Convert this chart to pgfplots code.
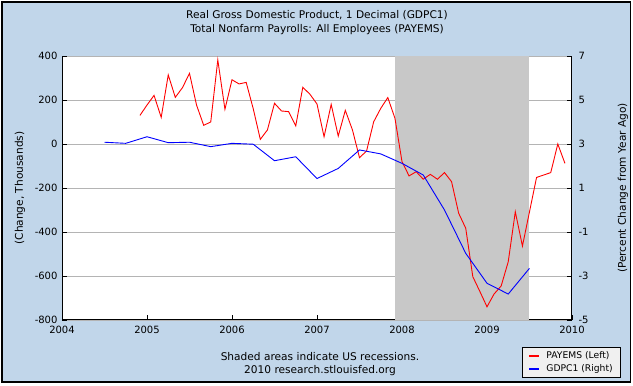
\documentclass[border=0pt]{standalone}
\usepackage{pgfplots}
\pgfplotsset{compat=1.18}
\usepackage{fontspec}
\setmainfont{DejaVu Sans}
\definecolor{bgblue}{HTML}{C1D6EA}
\definecolor{recgray}{HTML}{C8C8C8}
\definecolor{gridgray}{HTML}{B4B4B4}
\definecolor{legbg}{HTML}{F0F0F0}
\newcommand{\fs}{\fontsize{10.6}{12}\selectfont}
\newcommand{\ft}{\fontsize{10}{12}\selectfont}

\pgfplotstableread{
x y
2004.917 130
2005.000 177
2005.083 221
2005.167 121
2005.250 314
2005.333 212
2005.417 256
2005.500 321
2005.583 177
2005.667 85
2005.750 100
2005.833 382
2005.917 158
2006.000 292
2006.083 273
2006.167 280
2006.250 160
2006.333 21
2006.417 64
2006.500 185
2006.583 150
2006.667 147
2006.750 82
2006.833 258
2006.917 226
2007.000 182
2007.083 33
2007.167 180
2007.250 36
2007.333 153
2007.417 64
2007.500 -62
2007.583 -32
2007.667 101
2007.750 162
2007.833 211
2007.917 117
2008.000 -80
2008.083 -145
2008.167 -126
2008.250 -160
2008.333 -138
2008.417 -160
2008.500 -130
2008.583 -171
2008.667 -315
2008.750 -383
2008.833 -603
2008.917 -671
2009.000 -740
2009.083 -682
2009.167 -645
2009.250 -535
2009.333 -308
2009.417 -464
2009.500 -308
2009.583 -152
2009.667 -141
2009.750 -130
2009.833 0
2009.917 -88
}\payems

\pgfplotstableread{
x y
2004.50 3.08
2004.75 3.03
2005.00 3.33
2005.25 3.06
2005.50 3.08
2005.75 2.88
2006.00 3.03
2006.25 2.99
2006.50 2.24
2006.75 2.42
2007.00 1.43
2007.25 1.89
2007.50 2.73
2007.75 2.55
2008.00 2.12
2008.25 1.59
2008.50 0.00
2008.75 -1.97
2009.00 -3.33
2009.25 -3.82
2009.50 -2.65
}\gdpc

\begin{document}
\begin{tikzpicture}
\useasboundingbox (0pt,0pt) rectangle (633pt,386pt);
\fill[white] (0pt,0pt) rectangle (633pt,386pt);
\filldraw[fill=bgblue, draw=black, line width=1.5pt] (2pt,4pt) rectangle (630.5pt,384pt);
\node[font=\fs] at (317pt,371pt) {Real Gross Domestic Product, 1 Decimal (GDPC1)};
\node[font=\fs] at (317pt,356pt) {Total Nonfarm Payrolls: All Employees (PAYEMS)};
\node[font=\fs] at (320pt,29.5pt) {Shaded areas indicate US recessions.};
\node[font=\fs] at (320pt,15.5pt) {2010 research.stlouisfed.org};

\begin{axis}[
  at={(62pt,66pt)}, anchor=south west, scale only axis,
  width=510pt, height=264pt,
  xmin=2004, xmax=2010, ymin=-800, ymax=400,
  xtick={2004,2005,...,2010}, ytick={-800,-600,...,400},
  axis background/.style={fill=white},
  ymajorgrids, grid style={gridgray, line width=0.8pt},
  axis x line*=bottom, axis y line*=left,
  axis line style={black, line width=1pt, -},
  tick align=inside, major tick length=5pt,
  tick style={black, line width=0.8pt},
  /pgf/number format/assume math mode=true,
  xticklabel style={/pgf/number format/1000 sep={}, font=\ft, yshift=-2.5pt},
  yticklabel style={font=\ft, xshift=-1pt},
  ylabel={(Change, Thousands)},
  ylabel style={at={(axis description cs:-0.0824,0.5)}, anchor=center, font=\fs},
  clip=true,
]
\addplot[fill=recgray, draw=none] coordinates {(2007.917,-800) (2007.917,400) (2009.5,400) (2009.5,-800)} -- cycle;
\addplot[red, line width=0.9pt] table[x=x,y=y] {\payems};
\end{axis}

\begin{axis}[
  at={(62pt,66pt)}, anchor=south west, scale only axis,
  width=510pt, height=264pt,
  xmin=2004, xmax=2010, ymin=-5, ymax=7,
  ytick={-5,-3,...,7},
  axis x line=none, axis y line*=right,
  axis line style={black, line width=1pt, -},
  tick align=inside, major tick length=5pt,
  tick style={black, line width=0.8pt},
  /pgf/number format/assume math mode=true,
  yticklabel style={font=\ft, xshift=3pt},
  ylabel={(Percent Change from Year Ago)},
  ylabel style={at={(axis description cs:1.1,0.5)}, anchor=center, font=\fs},
  legend style={at={(axis description cs:0.902,-0.1023)}, anchor=north west,
    fill=legbg, draw=black, line width=0.8pt, font=\fontsize{9.2}{11}\selectfont,
    inner xsep=6pt, inner ysep=2.5pt, row sep=0.5pt,
    /tikz/every odd column/.append style={column sep=4pt}},
  legend cell align=left,
  legend image code/.code={\draw[#1, line width=2pt] (0pt,0pt) -- (10pt,0pt);},
]
\addlegendimage{red}
\addlegendentry{PAYEMS (Left)}
\addplot[blue, line width=0.9pt] table[x=x,y=y] {\gdpc};
\addlegendentry{GDPC1 (Right)}
\end{axis}
\end{tikzpicture}
\end{document}
